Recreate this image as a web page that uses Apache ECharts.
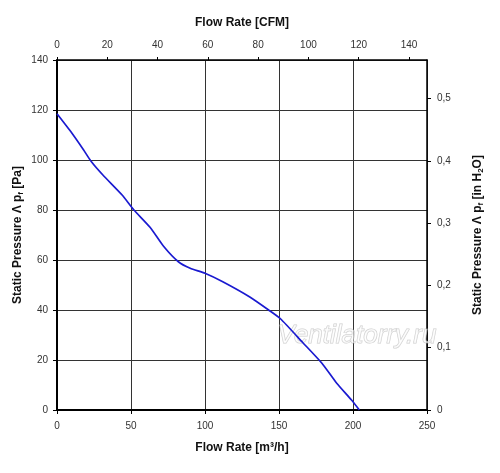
<!DOCTYPE html>
<html><head><meta charset="utf-8">
<script src="https://cdn.jsdelivr.net/npm/echarts@6/dist/echarts.min.js"></script>
<style>html,body{margin:0;padding:0;background:#fff}#c{width:500px;height:473px}</style>
</head><body><div id="c"></div>
<script>
var flowM3h = [0, 10, 18, 23, 31, 44, 52, 63, 72, 82, 90, 100, 112, 130, 143, 151, 166, 179, 189, 199, 204.3];
var pressurePa = [118.5, 110.8, 104, 99.5, 94, 86, 80, 73, 65.5, 59.3, 56.7, 54.7, 51.3, 45.3, 40, 36.5, 27, 18.7, 10.7, 4, 0];
var xTicksM3h = [0, 250, 50];
var yTicksPa = [0, 140, 20];
var cfmTicks = [0, 20, 140];
var inH2OTicks = [0, 0.1];
var PA_PER_INH2O = 249.0889;
var M3H_PER_CFM = 1.699;

var pts = flowM3h.map(function (x, i) { return [x, pressurePa[i]]; });
var chart = echarts.init(document.getElementById('c'));
var font = 'Liberation Sans, Arial, sans-serif';
var lblStyle = { color: '#333', fontSize: 10, fontFamily: font };
var nameStyle = { color: '#111', fontSize: 12, fontWeight: 'bold', fontFamily: font };
var subStyle = { color: '#111', fontSize: 8, fontWeight: 'bold', fontFamily: font, verticalAlign: 'bottom', padding: [6, 0, 0, 0] };
chart.setOption({
  animation: false,
  grid: { left: 57, right: 73, top: 60, bottom: 63, outerBoundsMode: 'none', containLabel: false },
  xAxis: [{
    type: 'value', min: xTicksM3h[0], max: xTicksM3h[1], interval: xTicksM3h[2], position: 'bottom',
    name: 'Flow Rate [m³/h]', nameLocation: 'middle', nameGap: 32, nameMoveOverlap: false, nameTextStyle: nameStyle,
    axisLine: { onZero: false, lineStyle: { color: '#000', width: 2 } },
    axisTick: { show: true, length: 4, lineStyle: { color: '#000' } },
    axisLabel: Object.assign({ margin: 11 }, lblStyle),
    splitLine: { show: true, lineStyle: { color: '#333', width: 1 } }
  }, {
    type: 'value', min: cfmTicks[0], max: xTicksM3h[1] / M3H_PER_CFM, interval: cfmTicks[1], position: 'top',
    name: 'Flow Rate [CFM]', nameLocation: 'middle', nameGap: 31, nameMoveOverlap: false, nameTextStyle: nameStyle,
    axisLine: { onZero: false, lineStyle: { color: '#000', width: 1.5 } },
    axisTick: { show: true, length: 3, lineStyle: { color: '#000' } },
    axisLabel: Object.assign({ margin: 10, showMaxLabel: false }, lblStyle, {
      formatter: function (v) { return v <= cfmTicks[2] ? String(v) : ''; } }),
    splitLine: { show: false }
  }],
  yAxis: [{
    type: 'value', min: yTicksPa[0], max: yTicksPa[1], interval: yTicksPa[2], position: 'left',
    name: '{a|Static Pressure Λ p}{s|f}{a| [Pa]}', nameLocation: 'middle', nameGap: 32, nameMoveOverlap: false,
    nameTextStyle: { rich: { a: nameStyle, s: subStyle } },
    axisLine: { onZero: false, lineStyle: { color: '#000', width: 2 } },
    axisTick: { show: true, length: 4, lineStyle: { color: '#000' } },
    axisLabel: Object.assign({ margin: 9 }, lblStyle),
    splitLine: { show: true, lineStyle: { color: '#333', width: 1 } }
  }, {
    type: 'value', min: inH2OTicks[0], max: yTicksPa[1] / PA_PER_INH2O, interval: inH2OTicks[1], position: 'right',
    name: '{a|Static Pressure Λ p}{s|f}{a| [in H}{s|2}{a|O]}', nameLocation: 'middle', nameGap: 44, nameRotate: 90, nameMoveOverlap: false,
    nameTextStyle: { rich: { a: nameStyle, s: subStyle } },
    axisLine: { show: true, onZero: false, lineStyle: { color: '#000', width: 1.5 } },
    axisTick: { show: true, length: 4, lineStyle: { color: '#000' } },
    axisLabel: Object.assign({ margin: 10, showMaxLabel: false }, lblStyle, {
      formatter: function (v) { return v === 0 ? '0' : v.toFixed(1).replace('.', ','); } }),
    splitLine: { show: false }
  }],
  graphic: [{
    type: 'text', left: 277, top: 322, silent: true, z: 1,
    style: { text: 'Ventilatorry.ru', fontSize: 26, fontStyle: 'italic', fontFamily: font,
      fill: 'rgba(255,255,255,0.6)', stroke: 'rgba(170,170,170,0.6)', lineWidth: 1 }
  }],
  series: [{
    type: 'line', xAxisIndex: 0, yAxisIndex: 0, data: pts, showSymbol: false, smooth: 0.2,
    lineStyle: { color: '#1a1ad0', width: 1.7 }, z: 3
  }]
});
</script></body></html>
